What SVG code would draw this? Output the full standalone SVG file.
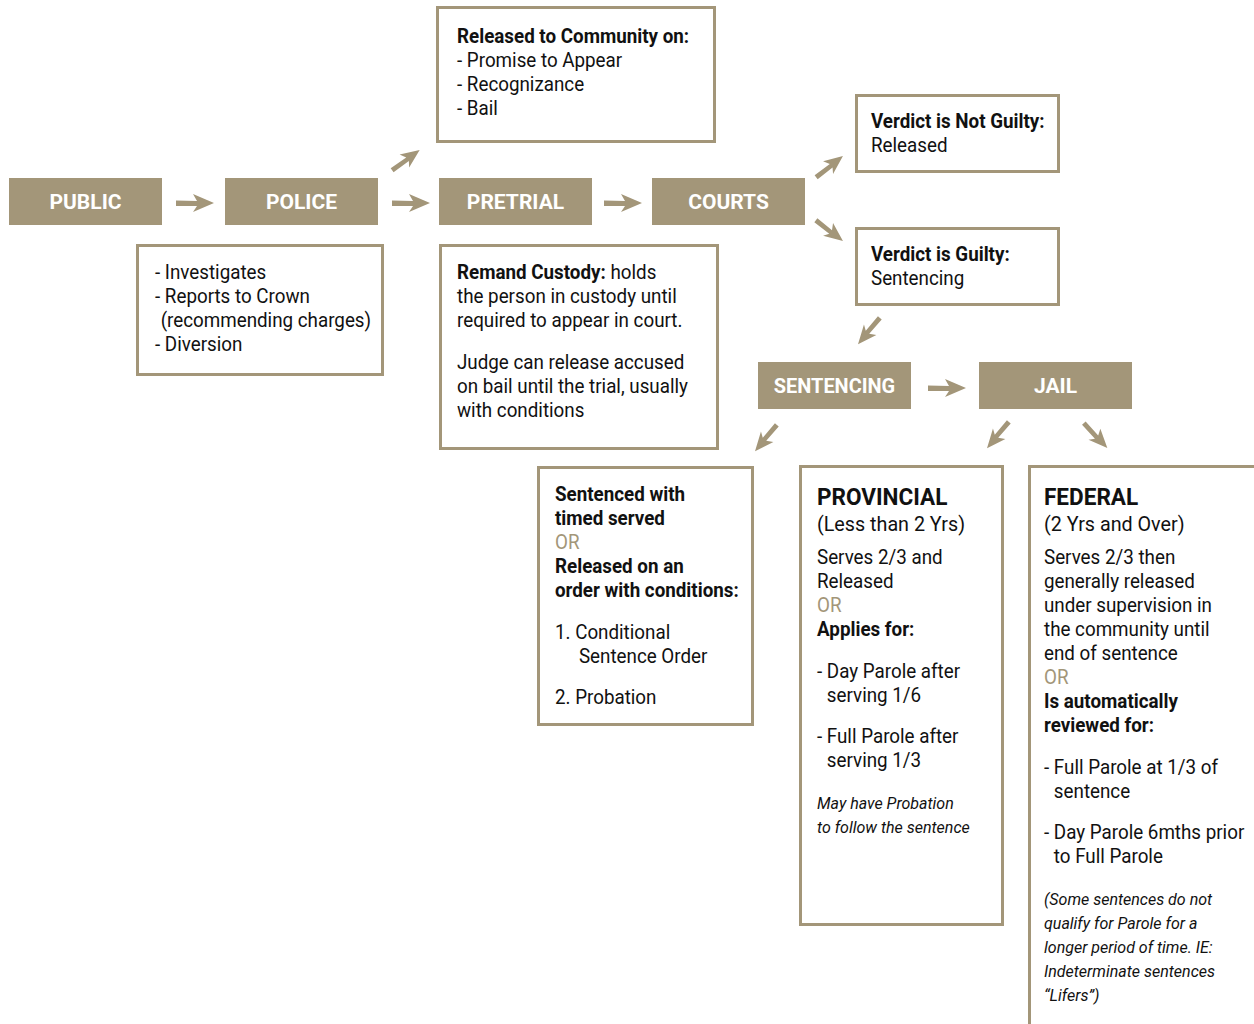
<svg xmlns="http://www.w3.org/2000/svg" width="1254" height="1024" viewBox="0 0 1254 1024">
<style>
text{font-family:Roboto,"Liberation Sans",sans-serif;font-size:20px;fill:#111}
.h{fill:#fff;font-weight:bold;font-size:21px;text-anchor:middle}
.b{font-weight:bold}
.t{fill:#a39679}
.big{font-weight:bold;font-size:24px}
.m{font-size:21px}
.i{font-style:italic;font-size:16px}
.fill{fill:#a39679}
.box{fill:#fff;stroke:#a39679;stroke-width:3}
</style>
<defs>
<path id="arr" d="M0,-2.5 L21,-2 L17,-9 L38,0 L17,9 L21,3 L0,3 Z" fill="#a39679"/>
</defs>
<rect width="1254" height="1024" fill="#fff"/>
<g id="connectors">
<use href="#arr" transform="translate(176,203)"/>
<use href="#arr" transform="translate(392,203)"/>
<use href="#arr" transform="translate(604,203)"/>
<use href="#arr" transform="translate(928,388)"/>
<use href="#arr" transform="translate(392,170) rotate(-36) scale(0.9)"/>
<use href="#arr" transform="translate(816,177) rotate(-38) scale(0.9)"/>
<use href="#arr" transform="translate(816,220) rotate(38) scale(0.9)"/>
<use href="#arr" transform="translate(880,318) rotate(130) scale(0.9)"/>
<use href="#arr" transform="translate(777,425) rotate(130) scale(0.9)"/>
<use href="#arr" transform="translate(1009,422) rotate(130) scale(0.9)"/>
<use href="#arr" transform="translate(1084,423) rotate(47) scale(0.9)"/>
</g>
<g id="public"><rect class="fill" x="9" y="178" width="153" height="47"/><text class="h" x="85.5" y="209">PUBLIC</text></g>
<g id="police"><rect class="fill" x="225" y="178" width="153" height="47"/><text class="h" x="301.5" y="209">POLICE</text></g>
<g id="pretrial"><rect class="fill" x="439" y="178" width="153" height="47"/><text class="h" x="515.5" y="209">PRETRIAL</text></g>
<g id="courts"><rect class="fill" x="652" y="178" width="153" height="47"/><text class="h" x="728.5" y="209">COURTS</text></g>
<g id="sentencing"><rect class="fill" x="758" y="362" width="153" height="47"/><text class="h" x="834.5" y="393" transform="translate(834.5,0) scale(0.95,1) translate(-834.5,0)">SENTENCING</text></g>
<g id="jail"><rect class="fill" x="979" y="362" width="153" height="47"/><text class="h" x="1055.5" y="393">JAIL</text></g>

<g id="released">
<rect class="box" x="437.5" y="7.5" width="277" height="134"/>
<g transform="translate(457,0) scale(0.94,1) translate(-457,0)">
<text class="b" x="457" y="43">Released to Community on:</text>
<text x="457" y="67">- Promise to Appear</text>
<text x="457" y="91">- Recognizance</text>
<text x="457" y="115">- Bail</text>
</g>
</g>
<g id="police-notes">
<rect class="box" x="137.5" y="245.5" width="245" height="129"/>
<g transform="translate(155,0) scale(0.94,1) translate(-155,0)">
<text x="155" y="279">- Investigates</text>
<text x="155" y="303">- Reports to Crown</text>
<text x="161" y="327">(recommending charges)</text>
<text x="155" y="351">- Diversion</text>
</g>
</g>
<g id="remand">
<rect class="box" x="440.5" y="245.5" width="277" height="203"/>
<g transform="translate(457,0) scale(0.94,1) translate(-457,0)">
<text x="457" y="279"><tspan class="b">Remand Custody:</tspan> holds</text>
<text x="457" y="303">the person in custody until</text>
<text x="457" y="327">required to appear in court.</text>
<text x="457" y="369">Judge can release accused</text>
<text x="457" y="393">on bail until the trial, usually</text>
<text x="457" y="417">with conditions</text>
</g>
</g>
<g id="not-guilty">
<rect class="box" x="856.5" y="95.5" width="202" height="76"/>
<g transform="translate(871,0) scale(0.94,1) translate(-871,0)">
<text class="b" x="871" y="128">Verdict is Not Guilty:</text>
<text x="871" y="152">Released</text>
</g>
</g>
<g id="guilty">
<rect class="box" x="856.5" y="228.5" width="202" height="76"/>
<g transform="translate(871,0) scale(0.94,1) translate(-871,0)">
<text class="b" x="871" y="261">Verdict is Guilty:</text>
<text x="871" y="285">Sentencing</text>
</g>
</g>
<g id="sentenced">
<rect class="box" x="538.5" y="467.5" width="214" height="257"/>
<g transform="translate(555,0) scale(0.94,1) translate(-555,0)">
<text class="b" x="555" y="501">Sentenced with</text>
<text class="b" x="555" y="525">timed served</text>
<text class="t" x="555" y="549">OR</text>
<text class="b" x="555" y="573">Released on an</text>
<text class="b" x="555" y="597">order with conditions:</text>
<text x="555" y="639">1. Conditional</text>
<text x="580.5" y="663">Sentence Order</text>
<text x="555" y="704">2. Probation</text>
</g>
</g>
<g id="provincial">
<rect class="box" x="800.5" y="466.5" width="202" height="458"/>
<g transform="translate(817,0) scale(0.94,1) translate(-817,0)">
<text class="big" x="817" y="505">PROVINCIAL</text>
<text class="m" x="817" y="531">(Less than 2 Yrs)</text>
<text x="817" y="564">Serves 2/3 and</text>
<text x="817" y="588">Released</text>
<text class="t" x="817" y="612">OR</text>
<text class="b" x="817" y="636">Applies for:</text>
<text x="817" y="678">- Day Parole after</text>
<text x="827.5" y="702">serving 1/6</text>
<text x="817" y="743">- Full Parole after</text>
<text x="827.5" y="767">serving 1/3</text>
</g>
<text class="i" x="817" y="809">May have Probation</text>
<text class="i" x="817" y="833">to follow the sentence</text>
</g>
<g id="federal">
<rect class="box" x="1029.5" y="466.5" width="260" height="600"/>
<g transform="translate(1044,0) scale(0.94,1) translate(-1044,0)">
<text class="big" x="1044" y="505">FEDERAL</text>
<text class="m" x="1044" y="531">(2 Yrs and Over)</text>
<text x="1044" y="564">Serves 2/3 then</text>
<text x="1044" y="588">generally released</text>
<text x="1044" y="612">under supervision in</text>
<text x="1044" y="636">the community until</text>
<text x="1044" y="660">end of sentence</text>
<text class="t" x="1044" y="684">OR</text>
<text class="b" x="1044" y="708">Is automatically</text>
<text class="b" x="1044" y="732">reviewed for:</text>
<text x="1044" y="774">- Full Parole at 1/3 of</text>
<text x="1054.5" y="798">sentence</text>
<text x="1044" y="839">- Day Parole 6mths prior</text>
<text x="1054.5" y="863">to Full Parole</text>
</g>
<text class="i" x="1044" y="905">(Some sentences do not</text>
<text class="i" x="1044" y="929">qualify for Parole for a</text>
<text class="i" x="1044" y="953">longer period of time. IE:</text>
<text class="i" x="1044" y="977">Indeterminate sentences</text>
<text class="i" x="1044" y="1001">“Lifers”)</text>
</g>
</svg>
